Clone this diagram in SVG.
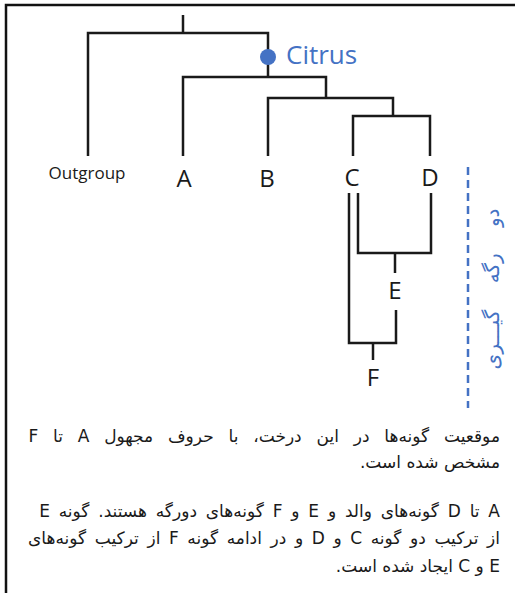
<svg xmlns="http://www.w3.org/2000/svg" width="515" height="593" viewBox="0 0 515 593">
<style>
.br{fill:none;stroke:#1a1a1a;stroke-width:2.5;stroke-linecap:butt;stroke-linejoin:miter}
.lbl{font-family:"Open Sans","Liberation Sans",sans-serif;fill:#1a1a1a;text-anchor:middle}
.fa{font-family:"DejaVu Sans","Noto Sans",sans-serif;font-size:17px;fill:#1a1a1a;direction:rtl;text-anchor:start}
.blue{fill:#4472C4}
</style>
<rect width="515" height="593" fill="#ffffff"/>
<path d="M6,593 V5 H515" fill="none" stroke="#111" stroke-width="2.5"/>
<g id="connectors">
  <path class="br" d="M183,15 V33"/>
  <path class="br" d="M88,156 V33 H268 V77"/>
  <path class="br" d="M183,156 V77 H326 V98"/>
  <path class="br" d="M268,156 V98 H393 V116"/>
  <path class="br" d="M353,156 V116 H430 V156"/>
  <path class="br" d="M358,193 V253 H431 V193"/>
  <path class="br" d="M395,253 V273"/>
  <path class="br" d="M349,193 V343 H396 V310"/>
  <path class="br" d="M373,343 V360"/>
  <path d="M468,167 V408" fill="none" stroke="#4472C4" stroke-width="2.5" stroke-dasharray="8,5"/>
</g>
<g id="citrus">
  <circle class="blue" cx="268" cy="57" r="8"/>
  <text x="286" y="64" font-family="Open Sans, Liberation Sans, sans-serif" font-size="26" class="blue">Citrus</text>
</g>
<g id="outgroup"><text class="lbl" x="87" y="179" font-size="17">Outgroup</text></g>
<g id="A"><text class="lbl" x="184" y="187" font-size="24">A</text></g>
<g id="B"><text class="lbl" x="267" y="187" font-size="24">B</text></g>
<g id="C"><text class="lbl" x="352" y="186" font-size="24">C</text></g>
<g id="D"><text class="lbl" x="430" y="186" font-size="24">D</text></g>
<g id="E"><text class="lbl" x="395" y="299" font-size="24">E</text></g>
<g id="F"><text class="lbl" x="373" y="386" font-size="24">F</text></g>
<g id="hybrid-label">
  <text transform="translate(493,289) rotate(-90)" x="0" y="6" font-family="DejaVu Sans, Noto Sans, sans-serif" font-size="20" word-spacing="20" text-anchor="middle" direction="rtl" class="blue">دو رگه گیـــری</text>
</g>
<g id="caption">
  <text class="fa" x="500" y="442" word-spacing="9.4">موقعیت گونه‌ها در این درخت، با حروف مجهول A تا F</text>
  <text class="fa" x="500" y="468">مشخص شده است.</text>
  <text class="fa" x="500" y="517" word-spacing="3.4">A تا D گونه‌های والد و E و F گونه‌های دورگه هستند. گونه E</text>
  <text class="fa" x="500" y="544" word-spacing="3.2">از ترکیب دو گونه C و D و در ادامه گونه F از ترکیب گونه‌های</text>
  <text class="fa" x="500" y="572">E و C ایجاد شده است.</text>
</g>
</svg>
